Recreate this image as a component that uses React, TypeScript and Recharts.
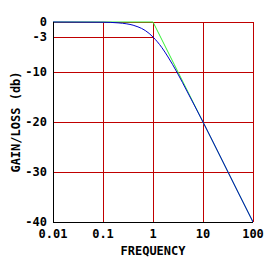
import React from "react";
import { LineChart, Line, XAxis, YAxis, CartesianGrid, ReferenceLine, Label } from "recharts";

const xTicks = [0.01, 0.1, 1, 10, 100];
const yTicks = [-40, -30, -20, -10, -3, 0];
const gridX = [0.1, 1, 10, 100];
const gridY = [-30, -20, -10, 0];

const asymFreq = [0.01, 1, 100];
const asymGain = [0, 0, -40];

const respFreq = [0.01, 0.1, 0.2, 0.3, 0.4, 0.5, 0.7, 1, 1.5, 2, 3, 5, 7, 10, 20, 50, 100];
const respGain = [0, -0.04, -0.17, -0.37, -0.64, -0.97, -1.7, -3.0, -5.1, -7.0, -10.0, -14.2, -17.0, -20.0, -26.0, -34.0, -40.0];

const asymData = asymFreq.map((f, i) => ({ f, g: asymGain[i] }));
const respData = respFreq.map((f, i) => ({ f, g: respGain[i] }));

const FONT = "'DejaVu Sans Mono', monospace";
const RED = "#c00000";

export default function App() {
  return (
    <div style={{ position: "absolute", left: 0, top: 0, width: 275, height: 275, background: "#fff" }}>
      <LineChart width={275} height={275} margin={{ top: 22, right: 22, bottom: 0, left: 0 }}>
        <CartesianGrid
          stroke={RED}
          strokeWidth={1}
          shapeRendering="crispEdges"
          horizontalValues={gridY}
          verticalValues={gridX}
        />
        <ReferenceLine
          segment={[{ x: 0.01, y: -3 }, { x: 1, y: -3 }]}
          stroke={RED}
          strokeWidth={1}
          shapeRendering="crispEdges"
          ifOverflow="extendDomain"
        />
        <XAxis
          dataKey="f"
          type="number"
          scale="log"
          domain={[0.01, 100]}
          ticks={xTicks}
          allowDataOverflow
          height={53}
          tickLine={false}
          tickSize={0}
          tickMargin={7}
          axisLine={{ stroke: "#000", strokeWidth: 1, shapeRendering: "crispEdges" }}
          tick={{ fill: "#000", fontFamily: FONT, fontSize: 12, fontWeight: "bold" }}
          interval={0}
        >
          <Label value="FREQUENCY" position="insideBottom" offset={20} style={{ fill: "#000", fontFamily: FONT, fontSize: 12, fontWeight: "bold" }} />
        </XAxis>
        <YAxis
          type="number"
          domain={[-40, 0]}
          ticks={yTicks}
          width={53}
          tickLine={false}
          tickSize={0}
          tickMargin={6}
          interval={0}
          axisLine={{ stroke: "#000", strokeWidth: 1, shapeRendering: "crispEdges" }}
          tick={{ fill: "#000", fontFamily: FONT, fontSize: 12, fontWeight: "bold" }}
        >
          <Label value="GAIN/LOSS (db)" angle={-90} position="insideLeft" offset={16} style={{ textAnchor: "middle", fill: "#000", fontFamily: FONT, fontSize: 12, fontWeight: "bold" }} />
        </YAxis>
        <Line data={asymData} dataKey="g" stroke="#33ee33" strokeWidth={1} dot={false} isAnimationActive={false} />
        <Line data={respData} dataKey="g" type="monotone" stroke="#0000cc" strokeWidth={1} dot={false} isAnimationActive={false} />
      </LineChart>
    </div>
  );
}
